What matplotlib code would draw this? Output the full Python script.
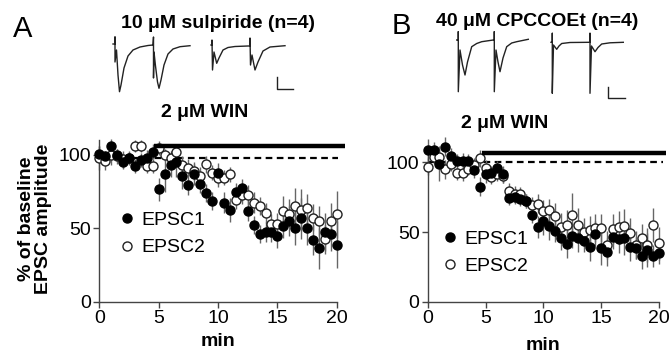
import matplotlib
matplotlib.use("Agg")
import matplotlib.pyplot as plt
from matplotlib.lines import Line2D
import numpy as np

plt.rcParams["font.family"] = ["Liberation Sans", "DejaVu Sans"]

W, H = 671, 356

# time points (min), 0.5 min bins
t_min = np.arange(0, 20.5, 0.5)

# panel A: 10 uM sulpiride
a_epsc1 = [101, 99, 106, 100, 95.4, 97.7, 92.5, 96.6, 97.7, 102.3,
           76.6, 86.8, 93.2, 95, 85.7, 79.6, 86.8, 80, 73.9, 68.7,
           87.5, 67.5, 62.5, 75, 77.3, 62, 52.3, 46.2, 47.5, 47.5,
           44.8, 51.6, 55, 50.5, 56.8, 50.5, 42, 36.4, 47.3, 46.4, 38.7]
a_epsc1_err = [5, 4, 5, 4, 5, 4, 5, 5, 6, 5,
               8, 12, 8, 10, 9, 7, 7, 6, 6, 6,
               7, 7, 8, 6, 6, 7, 6, 6, 7, 7,
               8, 8, 10, 12, 14, 12, 10, 14, 13, 12, 16]
a_epsc2 = [98, 96, 100, 99, 97, 98, 106, 106, 92.5, 92.5,
           104.8, 100, 97.7, 102.3, 93.2, 91.4, 89, 86, 93.6, 88,
           84.5, 84.5, 86.8, 69.4, 72.7, 72.7, 67.5, 65.2, 60.6, 52.7,
           52.7, 61.8, 60, 65.5, 62.5, 63.6, 57.3, 55, 42.5, 55, 59.6]
a_epsc2_err = [8, 6, 7, 5, 6, 5, 4, 4, 5, 5,
               5, 4, 5, 5, 6, 6, 6, 6, 6, 5,
               6, 5, 5, 6, 6, 7, 7, 6, 7, 7,
               8, 10, 10, 12, 14, 10, 9, 10, 10, 12, 16]

# panel B: 40 uM CPCCOEt
b_epsc1 = [108.8, 108.8, 98.6, 111.2, 104.5, 100.9, 100.9, 100.9, 94.5, 82.6,
           91.4, 92.6, 95.7, 91.4, 74.7, 75.3, 73.4, 72.2, 62.2, 53.8,
           57.9, 54.4, 50.7, 45.4, 41.1, 47.5, 45.4, 43.6, 39, 48.8,
           38.3, 35.9, 46.6, 44.7, 45.4, 39, 38.3, 32.8, 37.1, 32.8, 35.2]
b_epsc1_err = [8, 6, 12, 7, 6, 5, 6, 5, 6, 7,
               6, 5, 5, 6, 5, 5, 5, 5, 6, 8,
               10, 10, 8, 8, 10, 9, 10, 8, 10, 9,
               12, 10, 9, 10, 12, 10, 8, 9, 12, 8, 8]
b_epsc2 = [96.8, 104, 103.9, 95, 99, 92, 92.6, 95, 98, 102.8,
           95.7, 89.7, 91.6, 90, 79.4, 77, 77, 72.5, 69.4, 70.3,
           65.1, 65.8, 61.5, 53.8, 55, 62.2, 54.9, 50.2, 51.4, 52.6,
           52.6, 40.6, 52.1, 53.3, 54.5, 49, 40.6, 45.4, 40.6, 54.9, 41.8]
b_epsc2_err = [6, 5, 8, 7, 5, 5, 6, 4, 5, 6,
               6, 5, 5, 5, 6, 6, 5, 5, 6, 7,
               8, 8, 9, 10, 11, 16, 12, 10, 10, 10,
               10, 10, 11, 12, 12, 11, 10, 10, 12, 12, 12]

# example traces (x, y in pixels of the figure)
a_ctrl_x = [113, 115, 115, 115, 116.5, 118, 119.5, 121, 124, 128, 133, 140, 148, 153,
            153.5, 153.5, 154, 155.5, 157.5, 159, 161, 164, 168, 173, 180, 190]
a_ctrl_y = [44, 44, 37, 62, 50, 75, 91.7, 85, 68, 56, 50, 47, 45.5, 45,
            37, 78, 52, 66, 82, 88.3, 80, 65, 54, 49, 46.7, 45.7]
a_win_x = [211, 212, 212, 212.5, 214, 216.7, 219, 223, 228, 235, 248,
           250, 250, 250.5, 252, 255, 258, 263, 270, 285]
a_win_y = [45, 45, 40, 70, 52, 63.3, 58, 50, 47.5, 46.5, 46,
           46, 38, 65, 55, 70, 62, 51, 47, 45.7]
b_ctrl_x = [456.7, 458.3, 458.3, 458.3, 460, 462.5, 465, 467.5, 471.7, 476.7, 481.7, 493.3,
            494.3, 494.3, 494.3, 496, 498, 500, 503, 506.7, 511.7, 516.7, 528.3]
b_ctrl_y = [40, 40, 31.7, 91.7, 50, 65, 75, 62, 46.7, 43.5, 41.7, 40,
            40, 31.7, 91.7, 50, 62, 71.7, 58, 46.7, 43, 41.7, 39.3]
b_win_x = [551, 552.3, 552.3, 552.3, 553.5, 556.7, 559, 561.7, 570, 589,
           590, 590, 590, 591.5, 595, 598, 601.7, 610, 623.3]
b_win_y = [42.3, 42.3, 33.3, 93.3, 45, 49.3, 46, 43.5, 42.5, 42.3,
           42.3, 33.3, 93.3, 46, 51.7, 47.5, 44, 42.8, 42.3]


def px_axes(fig, x0, y0, x1, y1):
    """Axes placed by pixel box (top-left origin)."""
    return fig.add_axes([x0 / W, 1 - y1 / H, (x1 - x0) / W, (y1 - y0) / H])


def panel(ax, e1, e1_err, e2, e2_err, bar_y, bar_x0, bar_x1, dash_y, dash_x1, leg_xy):
    ax.errorbar(t_min, e2, yerr=e2_err, fmt="none", ecolor="#666666", elinewidth=1,
                capsize=0, clip_on=False, zorder=2)
    ax.errorbar(t_min, e1, yerr=e1_err, fmt="none", ecolor="#666666", elinewidth=1,
                capsize=0, clip_on=False, zorder=2)
    ax.plot(t_min, e2, "o", ms=6.5, mfc="white", mec="#222222", mew=1, ls="none",
            clip_on=False, zorder=3)
    ax.plot(t_min, e1, "o", ms=6.5, mfc="black", mec="black", ls="none",
            clip_on=False, zorder=4)
    ax.plot([bar_x0, bar_x1], [bar_y, bar_y], color="black", lw=3.2,
            solid_capstyle="butt", clip_on=False, zorder=5)
    ax.plot([0, dash_x1], [dash_y, dash_y], color="black", lw=1.6, dashes=(3, 2),
            clip_on=False, zorder=1)
    ax.set_xlim(0, 20)
    ax.set_ylim(0, 110)
    ax.set_xticks([0, 5, 10, 15, 20])
    ax.set_yticks([0, 50, 100])
    for s in ["top", "right"]:
        ax.spines[s].set_visible(False)
    for s in ["left", "bottom"]:
        ax.spines[s].set_color("#444444")
        ax.spines[s].set_linewidth(1)
    ax.tick_params(direction="out", length=4, width=1, color="#444444",
                   labelsize=14, pad=2)
    handles = [Line2D([], [], marker="o", ls="none", ms=6.5, mfc="black", mec="black"),
               Line2D([], [], marker="o", ls="none", ms=6.5, mfc="white", mec="#222222")]
    ax.legend(handles, ["EPSC1", "EPSC2"], loc="center left", bbox_to_anchor=leg_xy,
              frameon=False, fontsize=14, handlelength=0.8, handletextpad=0.35,
              labelspacing=0.5, borderpad=0, borderaxespad=0)


fig = plt.figure(figsize=(W / 100, H / 100), dpi=100)

ax_a = px_axes(fig, 99.3, 140.3, 336.8, 301.7)
panel(ax_a, a_epsc1, a_epsc1_err, a_epsc2, a_epsc2_err,
      106, 4.6, 20.7, 98, 20.1, (0.084, 0.42))
ax_b = px_axes(fig, 427.9, 148.4, 659.0, 301.7)
panel(ax_b, b_epsc1, b_epsc1_err, b_epsc2, b_epsc2_err,
      107, 4.7, 20.6, 100, 20.35, (0.063, 0.32))

# trace insets, drawn on a pixel-coordinate overlay
ov = fig.add_axes([0, 0, 1, 1], zorder=-1)
ov.set_xlim(0, W)
ov.set_ylim(H, 0)
ov.axis("off")
for xs, ys in [(a_ctrl_x, a_ctrl_y), (a_win_x, a_win_y),
               (b_ctrl_x, b_ctrl_y), (b_win_x, b_win_y)]:
    ov.plot(xs, ys, color="#222222", lw=1)
# scale bars
ov.plot([276.7, 276.7, 293.3], [76.7, 89.3, 89.3], color="#222222", lw=1)
ov.plot([608.3, 608.3, 625], [86.7, 98.3, 98.3], color="#222222", lw=1)

txt = dict(fontweight="bold", fontsize=14, ha="center", va="center")
fig.text(218 / W, 1 - 23 / H, "10 \u03bcM sulpiride (n=4)", **txt)
fig.text(537 / W, 1 - 22 / H, "40 \u03bcM CPCCOEt (n=4)", **txt)
fig.text(205 / W, 1 - 113 / H, "2 \u03bcM WIN", **txt)
fig.text(505 / W, 1 - 123 / H, "2 \u03bcM WIN", **txt)
fig.text(218 / W, 1 - 342 / H, "min", **txt)
fig.text(543 / W, 1 - 346 / H, "min", **txt)
fig.text(35 / W, 1 - 219 / H, "% of baseline\nEPSC amplitude", rotation=90,
         linespacing=1.05, **txt)
fig.text(23 / W, 1 - 29 / H, "A", fontsize=21, ha="center", va="center")
fig.text(401 / W, 1 - 26 / H, "B", fontsize=21, ha="center", va="center")

fig.savefig("out.png", dpi=100)
